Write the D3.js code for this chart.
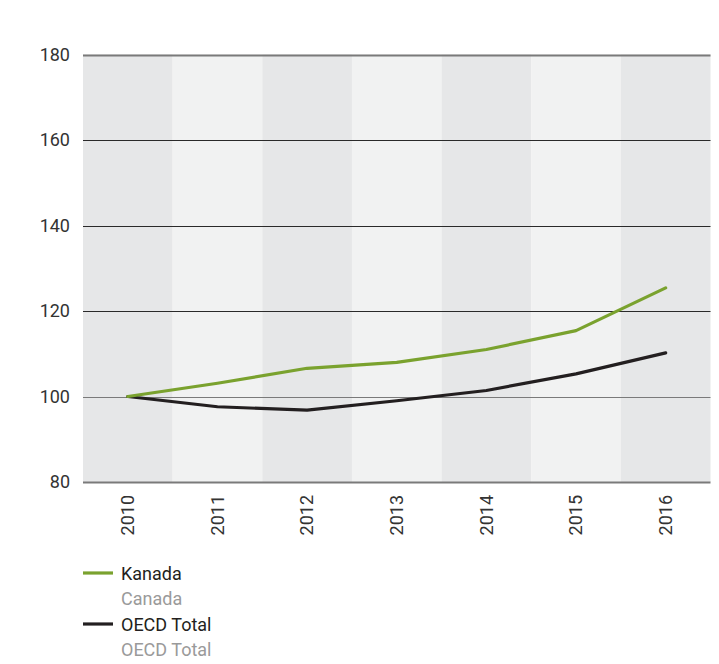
<!DOCTYPE html>
<html><head><meta charset="utf-8">
<script src="https://cdn.jsdelivr.net/npm/d3@7"></script>
<style>body{margin:0;background:#fff;}</style>
</head><body>
<svg id="c" width="719" height="664"></svg>
<script>
const years = ["2010","2011","2012","2013","2014","2015","2016"];
const kanada = [100, 103.1, 106.6, 108.0, 111.0, 115.4, 125.4];
const oecd = [100, 97.6, 96.8, 99.0, 101.4, 105.3, 110.2];
const yTicks = [80, 100, 120, 140, 160, 180];
const legendMain = ["Kanada", "OECD Total"];
const legendSub = ["Canada", "OECD Total"];

(function () {
const svg = d3.select("#c");
const mLeft = 83, mRight = 710.5, mTop = 54.5, mBottom = 482;
const x = d3.scaleBand().domain(years).range([mLeft, mRight]).padding(0);
const y = d3.scaleLinear().domain([80, 180]).range([mBottom, mTop]);
const font = "Roboto, Arial, sans-serif";

svg.selectAll("rect.band").data(years).join("rect").attr("class", "band")
  .attr("x", d => x(d)).attr("y", mTop).attr("width", x.bandwidth()).attr("height", mBottom - mTop)
  .attr("fill", (d, i) => i % 2 === 0 ? "#e6e7e8" : "#f1f2f2");

const yAxis = d3.axisLeft(y).tickValues(yTicks).tickSize(0).tickPadding(13);
const ga = svg.append("g").attr("transform", `translate(${mLeft},0)`).call(yAxis);
ga.select(".domain").remove();
ga.selectAll("text").attr("font-family", font).attr("font-size", 18).attr("fill", "#333");
svg.selectAll("line.grid").data(yTicks).join("line").attr("class", "grid")
  .attr("x1", mLeft).attr("x2", mRight)
  .attr("y1", d => Math.round(y(d)) + 0.5).attr("y2", d => Math.round(y(d)) + 0.5)
  .attr("stroke", d => (d === 80 || d === 180 || d === 100) ? "#7a7a7a" : "#2a2a2a")
  .attr("stroke-width", d => (d === 80 || d === 180) ? 2 : 1);

const xAxis = d3.axisBottom(x).tickSize(0);
const gx = svg.append("g").attr("transform", `translate(0,${mBottom})`).call(xAxis);
gx.select(".domain").remove();
gx.selectAll("text")
  .attr("font-family", font).attr("font-size", 18).attr("fill", "#333")
  .attr("transform", "rotate(-90)").attr("text-anchor", "end")
  .attr("x", -13).attr("y", 0).attr("dy", "0.35em");

const line = d3.line().x((d, i) => x(years[i]) + x.bandwidth() / 2).y(d => y(d));
svg.append("path").datum(oecd).attr("d", line).attr("fill", "none")
  .attr("stroke", "#231f20").attr("stroke-width", 3.2).attr("stroke-linecap", "round").attr("stroke-linejoin", "round");
svg.append("path").datum(kanada).attr("d", line).attr("fill", "none")
  .attr("stroke", "#7aa22e").attr("stroke-width", 3.2).attr("stroke-linecap", "round").attr("stroke-linejoin", "round");

const colors = ["#7aa22e", "#231f20"];
const lg = svg.append("g");
legendMain.forEach((t, i) => {
  const yy = 573 + i * 51;
  lg.append("line").attr("x1", 83).attr("x2", 113).attr("y1", yy).attr("y2", yy)
    .attr("stroke", colors[i]).attr("stroke-width", 3.2);
  lg.append("text").attr("x", 121).attr("y", yy + 7).text(t)
    .attr("font-family", font).attr("font-size", 18).attr("fill", "#231f20");
  lg.append("text").attr("x", 121).attr("y", yy + 32).text(legendSub[i])
    .attr("font-family", font).attr("font-size", 18).attr("fill", "#9a9a9a");
});
})();
</script>
</body></html>
